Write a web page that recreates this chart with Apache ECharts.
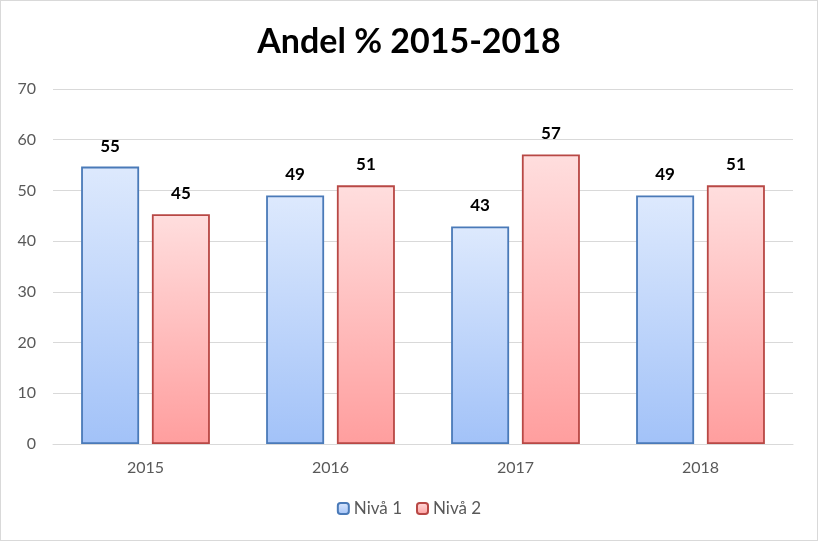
<!DOCTYPE html>
<html>
<head>
<meta charset="utf-8">
<script src="https://cdn.jsdelivr.net/npm/echarts@6/dist/echarts.min.js"></script>
<style>
html,body{margin:0;padding:0;background:#fff;}
#c{width:818px;height:541px;box-sizing:border-box;border:1px solid #d9d9d9;}
</style>
</head>
<body>
<div id="c"></div>
<script>
const categories = ['2015', '2016', '2017', '2018'];
const niva1 = [54.7, 49.0, 42.9, 49.0];
const niva2 = [45.3, 51.0, 57.1, 51.0];
const seriesNames = ['Nivå 1', 'Nivå 2'];
const titleText = 'Andel % 2015-2018';

const chart = echarts.init(document.getElementById('c'));
const font = 'Lato, "Open Sans", sans-serif';
function grad(top, bottom) {
  return new echarts.graphic.LinearGradient(0, 0, 0, 1, [
    { offset: 0, color: top }, { offset: 1, color: bottom }
  ]);
}
const labelCfg = {
  show: true, position: 'top', distance: 12,
  color: '#000', fontWeight: 'bold', fontSize: 17, fontFamily: font,
  formatter: p => Math.round(p.value)
};
chart.setOption({
  animation: false,
  title: {
    text: titleText, left: 'center', top: 19,
    textStyle: { fontSize: 34, fontWeight: 'bold', color: '#000', fontFamily: font }
  },
  legend: {
    bottom: 18, left: 'center', itemWidth: 11, itemHeight: 11, itemGap: 14,
    textStyle: { color: '#595959', fontSize: 17, fontFamily: font },
    data: seriesNames
  },
  grid: { left: 52, right: 24, top: 88, bottom: 96, containLabel: false },
  xAxis: {
    type: 'category', data: categories,
    axisLine: { lineStyle: { color: '#d9d9d9', width: 1 } },
    axisTick: { show: false },
    axisLabel: { color: '#595959', fontSize: 16, fontFamily: font, margin: 16 }
  },
  yAxis: {
    type: 'value', min: 0, max: 70, interval: 10,
    axisLine: { show: false }, axisTick: { show: false },
    splitLine: { lineStyle: { color: '#d9d9d9', width: 1 } },
    axisLabel: { color: '#595959', fontSize: 16, fontFamily: font, margin: 17 }
  },
  series: [
    {
      name: seriesNames[0], type: 'bar', data: niva1,
      barWidth: 58, barGap: '22%',
      itemStyle: { color: grad('#dde9fd', '#a2c2f8'), borderColor: '#4a7ab8', borderWidth: 1.8 },
      label: labelCfg
    },
    {
      name: seriesNames[1], type: 'bar', data: niva2,
      barWidth: 58,
      itemStyle: { color: grad('#ffdede', '#ff9e9e'), borderColor: '#b84845', borderWidth: 1.8 },
      label: labelCfg
    }
  ]
});
</script>
</body>
</html>
